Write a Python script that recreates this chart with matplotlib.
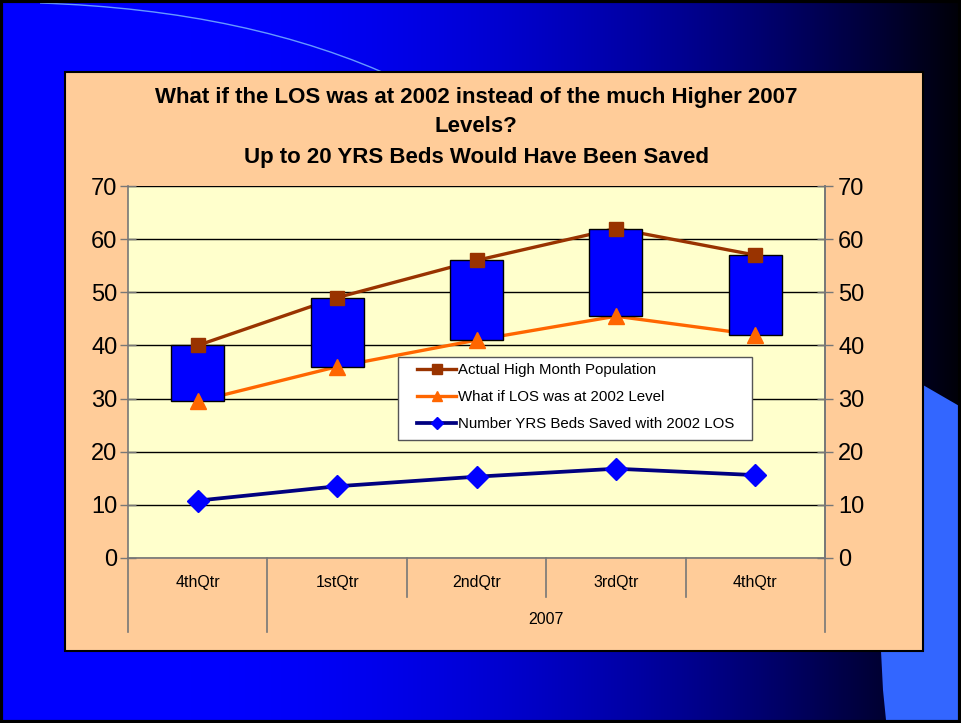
import numpy as np
import matplotlib
matplotlib.use("Agg")
import matplotlib.pyplot as plt
from matplotlib.patches import Rectangle, Polygon, PathPatch
from matplotlib.path import Path
from matplotlib.lines import Line2D

# ---- data ----
categories = ["4thQtr", "1stQtr", "2ndQtr", "3rdQtr", "4thQtr"]
group_label = "2007"
actual = [40, 49, 56, 62, 57]
what_if = [29.5, 36, 41, 45.5, 42]
saved = [10.8, 13.5, 15.3, 16.8, 15.6]
series_names = ["Actual High Month Population",
                "What if LOS was at 2002 Level",
                "Number YRS Beds Saved with 2002 LOS"]
title_lines = ["What if the LOS was at 2002 instead of the much Higher 2007",
               "Levels?",
               "Up to 20 YRS Beds Would Have Been Saved"]
yticks = [0, 10, 20, 30, 40, 50, 60, 70]

W, H = 961, 723
FONT = "Liberation Sans"
plt.rcParams['font.family'] = [FONT, 'DejaVu Sans']

fig = plt.figure(figsize=(W / 100, H / 100), dpi=100)

# ---- slide background ----
bg = fig.add_axes([0, 0, 1, 1], zorder=0)
bg.set_xlim(0, W)
bg.set_ylim(H, 0)
bg.axis('off')
xs = np.linspace(0, 1, 400)
b = 1 - np.clip((xs - 0.2) / 0.8, 0, 1) ** 1.8 * 0.97
grad = np.zeros((2, 400, 3))
grad[:, :, 2] = b
bg.imshow(grad, extent=(0, W, H, 0), aspect='auto', zorder=0)
# light-blue decorative shape at bottom right
bg.add_patch(Polygon([(900, 360), (923, 385), (961, 407), (961, 723), (886, 720),
                      (883, 690), (881, 651), (880, 500)], closed=True,
                     facecolor='#3366FF', edgecolor='none', zorder=1))
# thin arc at top-left
arc = Path([(40, 3), (250, 10), (400, 80)], [Path.MOVETO, Path.CURVE3, Path.CURVE3])
bg.add_patch(PathPatch(arc, facecolor='none', edgecolor='#6699FF', lw=1.0, zorder=1))
# slide frame
bg.add_patch(Rectangle((1, 1), W - 2, H - 2, facecolor='none', edgecolor='black', lw=3, zorder=5))
# chart area
bg.add_patch(Rectangle((65, 72), 858, 579, facecolor='#FFCC99', edgecolor='black', lw=1.5, zorder=2))

# title
for txt, yy in zip(title_lines, [97, 127, 157]):
    fig.text(476 / W, 1 - yy / H, txt, ha='center', va='center', fontsize=16,
             fontweight='bold', color='black', zorder=10)

# ---- plot area ----
L, R, T, B = 128, 825, 186, 558
ax = fig.add_axes([L / W, 1 - B / H, (R - L) / W, (B - T) / H], zorder=3)
ax.set_facecolor('#FFFFCC')
x = np.arange(len(categories))
ax.set_xlim(-0.5, len(categories) - 0.5)
ax.set_ylim(0, 70)
ax.set_yticks(yticks)
ax.grid(axis='y', color='black', lw=1, zorder=1)
ax.set_axisbelow(True)

act = np.array(actual)
wi = np.array(what_if)
# lines (behind bars)
ax.plot(x, act, color='#993300', lw=2.4, zorder=2)
ax.plot(x, wi, color='#FF6600', lw=2.4, zorder=2)
# up-down bars
ax.bar(x, act - wi, bottom=wi, width=0.38, color='#0000FF', edgecolor='black', lw=1, zorder=3)
ax.plot(x, saved, color='#000080', lw=2.7, zorder=2)
# markers on top
ax.plot(x, act, ls='none', marker='s', ms=10.5, color='#993300', zorder=4)
ax.plot(x, wi, ls='none', marker='^', ms=11, color='#FF6600', zorder=4)
ax.plot(x, saved, ls='none', marker='D', ms=11, color='#0000FF', zorder=4)

for s in ax.spines.values():
    s.set_color('#777777')
    s.set_linewidth(1.2)
ax.spines['top'].set_visible(False)
ax.tick_params(axis='y', direction='inout', length=11, width=1, color='#777777',
               labelsize=17, pad=2)
ax.tick_params(axis='x', length=0, labelbottom=False)

ax2 = ax.twinx()
ax2.set_ylim(0, 70)
ax2.set_yticks(yticks)
for s in ax2.spines.values():
    s.set_visible(False)
ax2.tick_params(axis='y', direction='inout', length=11, width=1, color='#777777',
                labelsize=17, pad=4)
ax2.spines['right'].set_visible(True)
ax2.spines['right'].set_color('#777777')
ax2.spines['right'].set_linewidth(1.2)

# category labels and separators
ph = B - T
tr = ax.get_xaxis_transform()
for i, c in enumerate(categories):
    ax.text(i, -25 / ph, c, transform=tr, ha='center', va='center', fontsize=11.5, clip_on=False)
ax.text(2.5, -62 / ph, group_label, transform=tr, ha='center', va='center', fontsize=11.5, clip_on=False)
for xv, ln in [(-0.5, 74), (0.5, 74), (1.5, 39), (2.5, 39), (3.5, 39), (4.5, 74)]:
    ax.add_line(Line2D([xv, xv], [0, -ln / ph], transform=tr, color='#777777', lw=1.2, clip_on=False))

# legend box
leg_ax = fig.add_axes([0, 0, 1, 1], zorder=10)
leg_ax.axis('off')
leg_ax.add_patch(Rectangle((398 / W, 1 - 440 / H), 354 / W, 83 / H, transform=fig.transFigure,
                           facecolor='white', edgecolor='#555555', lw=1))
handles = [Line2D([], [], color='#993300', lw=2.4, marker='s', ms=7),
           Line2D([], [], color='#FF6600', lw=2.4, marker='^', ms=7),
           Line2D([], [], color='#000080', lw=2.7, marker='D', ms=6, markerfacecolor='#0000FF',
                  markeredgecolor='#0000FF')]
leg = leg_ax.legend(handles, series_names, loc='upper left',
                    bbox_to_anchor=(417 / W, 1 - 363 / H), bbox_transform=fig.transFigure,
                    fontsize=10.8, frameon=False, handlelength=2.6, handletextpad=0.15,
                    labelspacing=0.86, borderpad=0, borderaxespad=0)

fig.savefig("out.png", dpi=100)
